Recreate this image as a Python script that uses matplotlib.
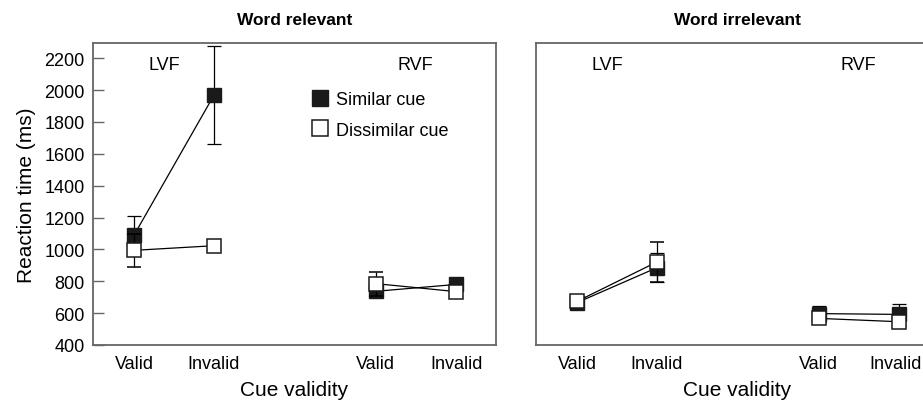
import matplotlib
matplotlib.use("Agg")
import matplotlib.pyplot as plt
from matplotlib.lines import Line2D
from matplotlib.transforms import ScaledTranslation

plt.rcParams['font.family'] = ['Liberation Sans', 'DejaVu Sans']

# data (ms)
conditions = ["Valid", "Invalid", "Valid", "Invalid"]
fields = ["LVF", "RVF"]

rel_similar = [1090, 1967, 737, 780]
rel_similar_err = [120, 307, 0, 0]
rel_dissimilar = [994, 1023, 785, 735]
rel_dissimilar_err = [105, 0, 75, 0]

irr_similar = [666, 885, 597, 592]
irr_similar_err = [0, 90, 50, 68]
irr_dissimilar = [674, 921, 567, 546]
irr_dissimilar_err = [0, 125, 0, 0]

panel_titles = ["Word relevant", "Word irrelevant"]

# layout
xpos = [0.102, 0.300, 0.702, 0.901]
spine_col = "#666666"

fig = plt.figure(figsize=(9.23, 4.02), dpi=100)
ax1 = fig.add_axes([93 / 923, 56 / 402, 403 / 923, 302 / 402])
ax2 = fig.add_axes([536 / 923, 56 / 402, 403 / 923, 302 / 402])


def draw_panel(ax, sim, sim_err, dis, dis_err, title):
    for seg in (slice(0, 2), slice(2, 4)):
        x = xpos[seg]
        ax.errorbar(x, sim[seg], yerr=sim_err[seg], color="black", lw=0.9,
                    elinewidth=0.9, capsize=5, capthick=0.9,
                    marker="s", ms=9.8, mfc="#1a1a1a", mec="#1a1a1a", zorder=2)
        ax.errorbar(x, dis[seg], yerr=dis_err[seg], color="black", lw=0.9,
                    elinewidth=0.9, capsize=5, capthick=0.9,
                    marker="s", ms=9.8, mfc="white", mec="#1a1a1a", mew=1.1,
                    zorder=3)
    ax.set_xlim(0, 1)
    ax.set_ylim(400, 2295)
    ax.set_xticks(xpos)
    ax.set_xticklabels(conditions, fontsize=13)
    ax.tick_params(axis="x", length=0, pad=7)
    ax.set_xlabel("Cue validity", fontsize=15, labelpad=6)
    ax.set_title(title, fontsize=12.5, fontweight="bold", pad=14)
    ax.text(0.176, 0.93, fields[0], transform=ax.transAxes, fontsize=13,
            ha="center", va="center")
    ax.text(0.80, 0.93, fields[1], transform=ax.transAxes, fontsize=13,
            ha="center", va="center")
    for sp in ax.spines.values():
        sp.set_color(spine_col)
        sp.set_linewidth(1.3)


draw_panel(ax1, rel_similar, rel_similar_err, rel_dissimilar,
           rel_dissimilar_err, panel_titles[0])
draw_panel(ax2, irr_similar, irr_similar_err, irr_dissimilar,
           irr_dissimilar_err, panel_titles[1])

# last label of the right panel sits just inside the picture edge
last = ax2.get_xticklabels()[-1]
last.set_transform(last.get_transform() + ScaledTranslation(-4 / 100, 0, fig.dpi_scale_trans))

ax1.set_yticks(range(400, 2201, 200))
ax1.tick_params(axis="y", direction="in", length=8, width=1, color=spine_col,
                labelsize=13, pad=6)
ax1.set_ylabel("Reaction time (ms)", fontsize=15, labelpad=6)
ax2.set_yticks([])

handles = [
    Line2D([], [], ls="none", marker="s", ms=11, mfc="#1a1a1a", mec="#1a1a1a"),
    Line2D([], [], ls="none", marker="s", ms=11, mfc="white", mec="#1a1a1a",
           mew=1.1),
]
ax1.legend(handles, ["Similar cue", "Dissimilar cue"], loc="upper left",
           bbox_to_anchor=(0.523, 0.865), frameon=False, fontsize=13,
           handlelength=1.0, handletextpad=0.4, labelspacing=0.75,
           borderaxespad=0)

fig.savefig("out.png", dpi=100)
